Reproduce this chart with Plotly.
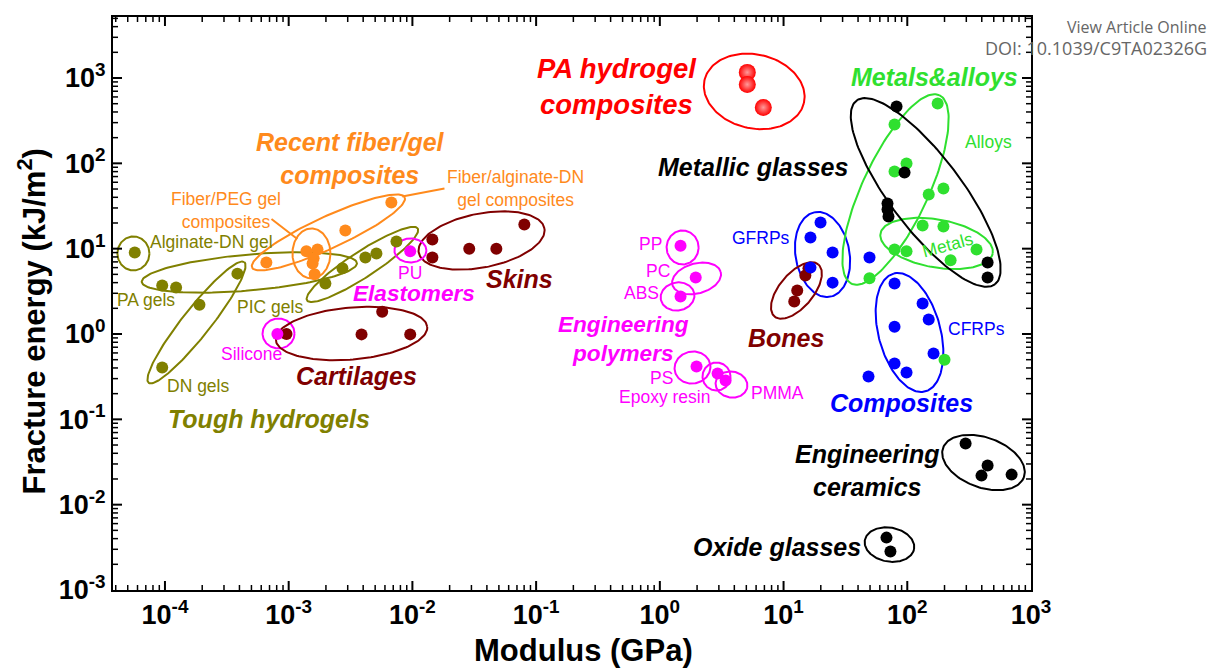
import numpy as np
import plotly.graph_objects as go

# ---------------- material data: modulus E (GPa), fracture energy G (kJ/m^2) ----------------
tough_E = [5.7e-5, 9.5e-5, 1.23e-4, 9.5e-5, 1.9e-4, 3.85e-4, 1.98e-3, 2.72e-3, 4.17e-3, 5.12e-3, 7.43e-3]
tough_G = [9.0, 3.7, 3.5, 0.405, 2.2, 5.1, 3.9, 5.9, 7.9, 8.8, 12.1]

fiber_E = [6.6e-4, 1.39e-3, 1.71e-3, 1.59e-3, 1.56e-3, 1.62e-3, 2.87e-3, 6.76e-3]
fiber_G = [6.9, 9.3, 9.8, 7.7, 6.7, 5.0, 16.3, 34.8]

elast_E = [9.6e-3, 8.1e-4]
elast_G = [9.3, 1.0]

engpoly_E = [1.47, 1.95, 1.47, 1.98, 2.93, 3.40]
engpoly_G = [10.8, 4.6, 2.75, 0.416, 0.344, 0.285]

cartilage_E = [9.6e-4, 3.88e-3, 5.7e-3, 9.6e-3]
cartilage_G = [1.0, 0.99, 1.82, 0.99]

skin_E = [0.0145, 0.0145, 0.0288, 0.0477, 0.0803]
skin_G = [12.8, 7.9, 10.0, 10.0, 19.2]

bone_E = [15.9, 15.0, 12.9, 12.2]
bone_G = [5.9, 4.85, 3.24, 2.40]

pa_comp_E = [5.09, 5.09, 6.86]
pa_comp_G = [1164, 841, 452]

metglass_E = [81.9, 95.0, 69.2, 69.2, 70.5, 446, 446]
metglass_G = [464, 78.2, 33.9, 28.8, 23.8, 6.9, 4.6]

metal_E = [176, 78.9, 98.6, 78.9, 196, 149, 133, 196, 78.9, 98.6, 363, 224, 49.5, 200]
metal_G = [504, 286, 99.6, 80.3, 50.8, 43.2, 18.7, 18.2, 9.8, 9.3, 9.8, 7.3, 4.5, 0.50]

gfrp_E = [19.9, 16.5, 24.9, 49.5, 16.5, 24.9]
gfrp_G = [20.3, 13.5, 9.0, 7.9, 6.0, 4.0]

cfrp_E = [78.9, 133, 149, 78.9, 163, 78.9, 98.6, 48.6]
cfrp_G = [3.9, 2.28, 1.48, 1.22, 0.59, 0.451, 0.354, 0.318]

ceramic_E = [296, 446, 398, 697]
ceramic_G = [0.052, 0.0287, 0.0219, 0.0225]

oxide_E = [67.9, 73.1]
oxide_G = [0.00411, 0.00282]

x_tick_exp = [-4, -3, -2, -1, 0, 1, 2, 3]
y_tick_exp = [-3, -2, -1, 0, 1, 2, 3]

# ---------------- styling ----------------
OLIVE = "#808000"
ORANGE = "#ff8a1c"
MAGENTA = "#ff00ff"
DARKRED = "#800000"
RED = "#ff0000"
BLACK = "black"
GREEN = "#2fe02f"
BLUE = "#0000ff"
FONT = "Liberation Sans, Arial, sans-serif"

W, H = 1213, 669
M = dict(l=113, r=182, t=17, b=79)
X_RANGE = [-4.42, 3.0]
Y_RANGE = [-3.0, 3.715]
PX_X = (W - M["l"] - M["r"]) / (X_RANGE[1] - X_RANGE[0])   # pixels per decade
PX_Y = (H - M["t"] - M["b"]) / (Y_RANGE[1] - Y_RANGE[0])

fig = go.Figure()


def ellipse(cx, cy, a, b, ang, color):
    """Outline of an ellipse centred at (10^cx, 10^cy); a, b in screen pixels, ang in degrees."""
    t = np.linspace(0, 2 * np.pi, 160)
    th = np.deg2rad(ang)
    dx = a * np.cos(t) * np.cos(th) - b * np.sin(t) * np.sin(th)
    dy = a * np.cos(t) * np.sin(th) + b * np.sin(t) * np.cos(th)
    fig.add_trace(go.Scatter(x=10 ** (cx + dx / PX_X), y=10 ** (cy + dy / PX_Y), mode="lines",
                             line=dict(color=color, width=2), hoverinfo="skip", showlegend=False))


# group outlines: centre (log E, log G), semi-axes (px), rotation (deg), colour
enclosures = [
    (-4.255, 0.944, 16, 17, 0, OLIVE),     # Alginate-DN gel
    (-3.318, 0.721, 108, 18, 5, OLIVE),    # PA gels
    (-3.745, 0.135, 77, 14, 51.6, OLIVE),  # DN gels
    (-2.404, 0.815, 66, 13, 33, OLIVE),    # PIC gels
    (-2.679, 1.190, 84, 16, 24.7, ORANGE), # recent fiber/gel composites
    (-2.816, 0.944, 19, 25, 0, ORANGE),    # Fiber/PEG
    (-1.441, 1.096, 64, 27, 11, DARKRED),  # skins
    (-2.016, 0.979, 16, 12, 0, MAGENTA),   # PU
    (-3.082, 0.006, 16, 15, 0, MAGENTA),   # silicone
    (-2.492, 0.006, 76, 26, 5, DARKRED),   # cartilages
    (0.763, 2.843, 51, 37, -13, RED),      # PA hydrogel composites
    (0.184, 1.014, 16, 17, 0, MAGENTA),    # PP
    (0.297, 0.651, 25, 15, 15, MAGENTA),   # PC
    (0.143, 0.440, 17, 14, 10, MAGENTA),   # ABS
    (0.264, -0.393, 18, 16, 10, MAGENTA),  # PS
    (0.458, -0.498, 14, 14, 0, MAGENTA),   # epoxy
    (0.579, -0.592, 16, 13, -10, MAGENTA), # PMMA
    (1.315, 0.932, 43, 27, 100, BLUE),     # GFRPs
    (2.018, 0.018, 61, 31, 105, BLUE),     # CFRPs
    (1.905, 1.694, 104, 33, 65, GREEN),    # alloys
    (2.237, 1.061, 57, 24, -10, GREEN),    # metals
    (2.149, 1.659, 115, 36, -53, BLACK),   # metallic glasses
    (2.616, -1.506, 43, 25, -20, BLACK),   # engineering ceramics
    (1.856, -2.468, 25, 17, -10, BLACK),   # oxide glasses
    (1.104, 0.510, 34, 17, 50, DARKRED),   # bones
]
for e in enclosures:
    ellipse(*e)

# leader lines from labels to the orange groups
for (x0, y0), (x1, y1) in [((-3.139, 1.348), (-2.930, 1.114)), ((-2.082, 1.612), (-1.741, 1.706))]:
    fig.add_trace(go.Scatter(x=[10 ** x0, 10 ** x1], y=[10 ** y0, 10 ** y1], mode="lines",
                             line=dict(color=ORANGE, width=2), hoverinfo="skip", showlegend=False))


# ---------------- inward log ticks on all four sides ----------------
def tick_marks(exps_lo, exps_hi, digits, length, width, on_x):
    lo, hi = (X_RANGE if on_x else Y_RANGE)
    other_lo, other_hi = (Y_RANGE if on_x else X_RANGE)
    step = length / (PX_Y if on_x else PX_X)
    a, b = [], []
    for e in range(exps_lo, exps_hi + 1):
        for k in digits:
            lv = np.log10(k) + e
            if not (lo + 1e-6 < lv < hi - 1e-6):
                continue
            v = 10.0 ** lv
            a += [v, v, None, v, v, None]
            b += [10 ** other_lo, 10 ** (other_lo + step), None, 10 ** other_hi, 10 ** (other_hi - step), None]
    xs, ys = (a, b) if on_x else (b, a)
    fig.add_trace(go.Scatter(x=xs, y=ys, mode="lines", line=dict(color=BLACK, width=width),
                             hoverinfo="skip", showlegend=False))


MINOR_DIGITS = range(2, 10)
tick_marks(-5, 3, MINOR_DIGITS, 5, 1.5, True)
tick_marks(-5, 3, [1], 9, 2, True)
tick_marks(-3, 3, MINOR_DIGITS, 5, 1.5, False)
tick_marks(-3, 3, [1], 9, 2, False)

# data points
series = [
    (tough_E, tough_G, OLIVE, 12),
    (fiber_E, fiber_G, ORANGE, 12),
    (cartilage_E, cartilage_G, DARKRED, 12),
    (skin_E, skin_G, DARKRED, 12),
    (elast_E, elast_G, MAGENTA, 12),
    (engpoly_E, engpoly_G, MAGENTA, 12),
    (bone_E, bone_G, DARKRED, 12),
    (gfrp_E, gfrp_G, BLUE, 12),
    (cfrp_E, cfrp_G, BLUE, 12),
    (metal_E, metal_G, GREEN, 12),
    (metglass_E, metglass_G, BLACK, 12),
    (ceramic_E, ceramic_G, BLACK, 12),
    (oxide_E, oxide_G, BLACK, 12),
]
for xs, ys, c, s in series:
    fig.add_trace(go.Scatter(x=xs, y=ys, mode="markers", showlegend=False,
                             marker=dict(color=c, size=s, line=dict(width=0))))
fig.add_trace(go.Scatter(x=pa_comp_E, y=pa_comp_G, mode="markers", showlegend=False,
                         marker=dict(color=RED, size=17, line=dict(width=0),
                                     gradient=dict(type="radial", color="#ff9a9a"))))

# ---------------- labels ----------------
annotations = []


def label(text, lx, ly, color, size=17.5, bold=False, xanchor="center", align="center", angle=0):
    if bold:
        text = "<b><i>" + text + "</i></b>"
    annotations.append(dict(x=lx, y=ly, xref="x", yref="y", text=text, showarrow=False,
                            font=dict(family=FONT, size=size, color=color),
                            xanchor=xanchor, yanchor="middle", align=align, textangle=angle))


BIG = 25
MID = 22.6
label("Alginate-DN gel", -3.623, 1.073, OLIVE)
label("PA gels", -4.150, 0.393, OLIVE)
label("DN gels", -3.729, -0.615, OLIVE)
label("PIC gels", -3.155, 0.311, OLIVE)
label("Tough hydrogels", -3.163, -0.991, OLIVE, BIG, True)
label("Recent fiber/gel<br>composites", -2.500, 2.057, ORANGE, BIG, True)
label("Fiber/PEG gel<br>composites", -3.503, 1.447, ORANGE)
label("Fiber/alginate-DN<br>gel composites", -1.168, 1.706, ORANGE)
label("PU", -2.016, 0.715, MAGENTA)
label("Elastomers", -1.991, 0.480, MAGENTA, MID, True)
label("Silicone", -3.302, -0.229, MAGENTA)
label("PP", -0.075, 1.049, MAGENTA)
label("PC", -0.011, 0.744, MAGENTA)
label("ABS", -0.148, 0.475, MAGENTA)
label("Engineering<br>polymers", -0.293, -0.064, MAGENTA, MID, True)
label("PS", 0.014, -0.510, MAGENTA)
label("Epoxy resin", 0.038, -0.744, MAGENTA)
label("PMMA", 0.951, -0.686, MAGENTA)
label("Skins", -1.134, 0.639, DARKRED, BIG, True)
label("Cartilages", -2.452, -0.487, DARKRED, BIG, True)
label("Bones", 1.024, -0.041, DARKRED, BIG, True)
label("PA hydrogel<br>composites", -0.350, 2.901, RED, 27.5, True)
label("Metallic glasses", 0.750, 1.952, BLACK, BIG, True)
label("Engineering<br>ceramics", 1.678, -1.600, BLACK, BIG, True)
label("Oxide glasses", 0.943, -2.491, BLACK, BIG, True)
label("Metals&alloys", 2.221, 3.007, GREEN, BIG, True)
label("Alloys", 2.658, 2.256, GREEN)
label("Metals", 2.326, 1.038, GREEN, angle=-15)
label("GFRPs", 0.814, 1.120, BLUE)
label("CFRPs", 2.560, 0.053, BLUE)
label("Composites", 1.954, -0.803, BLUE, BIG, True)

# axis titles
annotations.append(dict(x=0.513, y=-0.106, xref="paper", yref="paper", showarrow=False,
                        text="<b>Modulus (GPa)</b>", font=dict(family=FONT, size=31, color=BLACK),
                        xanchor="center", yanchor="middle"))
annotations.append(dict(x=-0.088, y=0.469, xref="paper", yref="paper", showarrow=False, textangle=-90,
                        text="<b>Fracture energy (kJ/m<sup>2</sup>)</b>",
                        font=dict(family=FONT, size=31, color=BLACK),
                        xanchor="center", yanchor="middle"))
# publisher header
annotations.append(dict(x=1.194, y=0.983, xref="paper", yref="paper", showarrow=False,
                        text="View Article Online",
                        font=dict(family="Open Sans, sans-serif", size=16, color="#666666"),
                        xanchor="right", yanchor="middle"))
annotations.append(dict(x=1.194, y=0.946, xref="paper", yref="paper", showarrow=False,
                        text="DOI: 10.1039/C9TA02326G",
                        font=dict(family="Open Sans, sans-serif", size=18, color="#666666"),
                        xanchor="right", yanchor="middle"))


def main_axis(rng, exps):
    return dict(type="log", range=rng, showgrid=False, showline=True, linecolor=BLACK,
                linewidth=2, mirror=True, ticks="", tickfont=dict(family=FONT, size=27, color=BLACK),
                tickmode="array", tickvals=[10.0 ** e for e in exps],
                ticktext=["<b>10<sup>%d</sup></b>" % e for e in exps])


fig.update_layout(
    width=W, height=H, margin=M, plot_bgcolor="white", paper_bgcolor="white",
    xaxis=main_axis(X_RANGE, x_tick_exp),
    yaxis=main_axis(Y_RANGE, y_tick_exp),
    annotations=annotations,
)

fig.write_html("out.html")
